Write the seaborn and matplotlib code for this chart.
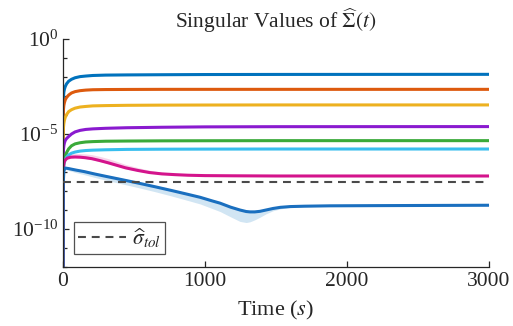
import numpy as np
import pandas as pd
import matplotlib
matplotlib.use("Agg")
import matplotlib.pyplot as plt
import matplotlib.ticker as mticker
import seaborn as sns

# Data (log10 of the singular values)
t_fast = [0, 1, 3, 6, 10, 16, 25, 40, 60, 85, 120, 160, 210, 300, 450, 700, 1000, 1500, 3000]
log_sv1 = [-13, -3.60, -3.05, -2.80, -2.64, -2.50, -2.36, -2.22, -2.12, -2.04, -1.98, -1.95,
           -1.92, -1.90, -1.89, -1.88, -1.87, -1.865, -1.86]
log_sv2 = [-13, -4.30, -3.74, -3.50, -3.35, -3.20, -3.08, -2.95, -2.84, -2.77, -2.72, -2.69,
           -2.67, -2.66, -2.655, -2.65, -2.65, -2.65, -2.65]
log_sv3 = [-13, -5.20, -4.68, -4.45, -4.28, -4.12, -3.98, -3.82, -3.72, -3.64, -3.58, -3.55,
           -3.52, -3.505, -3.49, -3.48, -3.475, -3.47, -3.47]
log_sv4 = [-13, -6.30, -5.84, -5.62, -5.47, -5.34, -5.24, -5.13, -5.00, -4.89, -4.81, -4.76,
           -4.73, -4.70, -4.67, -4.645, -4.625, -4.615, -4.61]
log_sv5 = [-13, -7.00, -6.70, -6.50, -6.32, -6.15, -5.98, -5.78, -5.62, -5.52, -5.46, -5.42,
           -5.40, -5.38, -5.37, -5.36, -5.355, -5.35, -5.35]
log_sv6 = [-13, -7.00, -6.80, -6.62, -6.48, -6.34, -6.22, -6.10, -6.01, -5.95, -5.90, -5.87,
           -5.85, -5.83, -5.81, -5.80, -5.795, -5.79, -5.79]

t_sv7 = [0, 2, 6, 14, 30, 55, 85, 120, 160, 204, 260, 320, 366, 440, 528, 610, 697, 790,
         880, 1000, 1200, 1500, 3000]
log_sv7 = [-13, -7.00, -6.55, -6.38, -6.27, -6.22, -6.21, -6.22, -6.25, -6.30, -6.40, -6.52,
           -6.62, -6.78, -6.92, -7.03, -7.10, -7.14, -7.17, -7.19, -7.20, -7.21, -7.21]
log_sv7_lo = [-13, -7.05, -6.60, -6.43, -6.32, -6.27, -6.26, -6.27, -6.30, -6.35, -6.45, -6.57,
              -6.67, -6.82, -6.96, -7.06, -7.12, -7.16, -7.18, -7.20, -7.21, -7.22, -7.22]
log_sv7_hi = [-13, -6.90, -6.44, -6.25, -6.12, -6.05, -6.03, -6.03, -6.05, -6.09, -6.18, -6.30,
              -6.41, -6.60, -6.77, -6.91, -7.01, -7.08, -7.13, -7.17, -7.19, -7.20, -7.20]

t_sv8 = [0, 2, 6, 14, 40, 85, 150, 220, 296, 400, 528, 650, 768, 870, 965, 1050, 1106, 1180,
         1246, 1290, 1317, 1350, 1387, 1430, 1479, 1530, 1599, 1700, 1880, 2200, 2600, 3000]
log_sv8 = [-13, -7.60, -6.95, -6.79, -6.82, -6.89, -6.98, -7.10, -7.22, -7.38, -7.58, -7.78,
           -7.98, -8.16, -8.33, -8.52, -8.64, -8.85, -9.00, -9.08, -9.10, -9.10, -9.07, -9.00,
           -8.92, -8.86, -8.82, -8.80, -8.78, -8.77, -8.76, -8.75]
log_sv8_lo = [-13, -7.65, -7.00, -6.85, -6.92, -7.02, -7.14, -7.28, -7.42, -7.60, -7.82, -8.04,
              -8.27, -8.48, -8.68, -8.92, -9.08, -9.36, -9.60, -9.66, -9.62, -9.52, -9.38,
              -9.20, -9.04, -8.94, -8.87, -8.83, -8.80, -8.79, -8.78, -8.77]
log_sv8_hi = [-13, -7.52, -6.88, -6.72, -6.75, -6.81, -6.90, -7.02, -7.14, -7.30, -7.50, -7.70,
              -7.91, -8.09, -8.26, -8.45, -8.57, -8.78, -8.93, -9.01, -9.03, -9.03, -9.00,
              -8.94, -8.87, -8.82, -8.79, -8.77, -8.76, -8.75, -8.74, -8.73]

log_tol = -7.5

colors = ["#0072BD", "#DD5A0E", "#EDB120", "#8A1ACF", "#3AAA3A", "#38BEEE", "#D4148C", "#1A6FBF"]

series = [(t_fast, log_sv1), (t_fast, log_sv2), (t_fast, log_sv3), (t_fast, log_sv4),
          (t_fast, log_sv5), (t_fast, log_sv6), (t_sv7, log_sv7), (t_sv8, log_sv8)]

rows = []
for k, (tt, lv) in enumerate(series):
    for ti, vi in zip(tt, lv):
        rows.append({"t": ti, "sv": 10.0 ** vi, "k": k})
df = pd.DataFrame(rows)

sns.set_theme(style="ticks")
plt.rcParams["font.family"] = ["Liberation Serif", "DejaVu Serif"]
plt.rcParams["mathtext.fontset"] = "stix"

fig = plt.figure(figsize=(5.13, 3.26), dpi=100)
ax = fig.add_axes([63 / 513, 1 - 267 / 326, 426 / 513, 228 / 326])

# shaded bands
ax.fill_between(t_sv7, 10.0 ** np.array(log_sv7_lo), 10.0 ** np.array(log_sv7_hi),
                color="#D4148C", alpha=0.18, lw=0)
ax.fill_between(t_sv8, 10.0 ** np.array(log_sv8_lo), 10.0 ** np.array(log_sv8_hi),
                color="#0072BD", alpha=0.18, lw=0)

sns.lineplot(data=df, x="t", y="sv", hue="k", palette=colors, legend=False,
             lw=2.2, ax=ax, sort=False, estimator=None)

ax.axhline(10.0 ** log_tol, color="#4a4a4a", lw=1.5, ls=(0, (3.8, 2.8)),
           label=r"$\widehat{\sigma}_{tol}$", zorder=3)

ax.set_yscale("log")
ax.set_xlim(0, 3000)
ax.set_ylim(1e-12, 1)
ax.xaxis.set_major_locator(mticker.FixedLocator([0, 1000, 2000, 3000]))
ax.yaxis.set_major_locator(mticker.FixedLocator([1e-10, 1e-5, 1e0]))
ax.yaxis.set_minor_locator(mticker.FixedLocator([10.0 ** e for e in range(-12, 1)]))
ax.yaxis.set_minor_formatter(mticker.NullFormatter())
ax.tick_params(axis="both", which="both", direction="in", colors="#262626",
               labelcolor="#262626", labelsize=15.5, width=0.9)
ax.tick_params(axis="both", which="major", length=4.5)
ax.tick_params(axis="y", which="minor", length=3)
ax.tick_params(axis="x", which="minor", length=0)

for s in ["top", "right"]:
    ax.spines[s].set_visible(False)
for s in ["left", "bottom"]:
    ax.spines[s].set_color("#262626")
    ax.spines[s].set_linewidth(0.9)

ax.set_title(r"Singular Values of $\widehat{\Sigma}(t)$", fontsize=15.5, color="#262626", pad=8)
ax.set_xlabel(r"Time ($s$)", fontsize=16, color="#262626", labelpad=6)
ax.set_ylabel("")

leg = ax.legend(loc="lower left", bbox_to_anchor=(0.026, 0.057), borderaxespad=0,
                fontsize=15.5, frameon=True, fancybox=False, handlelength=2.2,
                handletextpad=0.3, borderpad=0.2)
leg.get_frame().set_edgecolor("#262626")
leg.get_frame().set_linewidth(0.9)

fig.savefig("out.png", dpi=100)
